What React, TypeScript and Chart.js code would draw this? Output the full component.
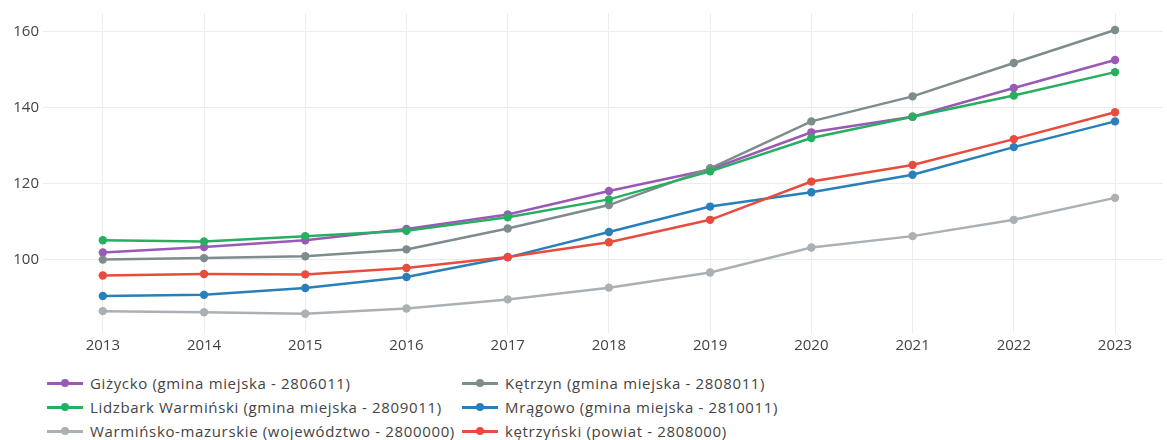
import React, { useEffect, useRef } from "react";
import { Chart, registerables } from "chart.js";

Chart.register(...registerables);

const years = [2013, 2014, 2015, 2016, 2017, 2018, 2019, 2020, 2021, 2022, 2023];
const yTicks = [100, 120, 140, 160];

const gizycko = [101.8, 103.2, 105.0, 108.0, 111.8, 118.0, 123.7, 133.5, 137.6, 145.2, 152.6];
const ketrzyn = [99.9, 100.3, 100.8, 102.6, 108.1, 114.3, 124.0, 136.4, 143.0, 151.8, 160.5];
const lidzbark = [105.0, 104.7, 106.1, 107.5, 111.1, 115.8, 123.2, 132.0, 137.6, 143.2, 149.4];
const mragowo = [90.3, 90.6, 92.4, 95.3, 100.5, 107.2, 113.9, 117.7, 122.3, 129.6, 136.4];
const warminsko = [86.3, 86.0, 85.6, 87.0, 89.4, 92.5, 96.5, 103.1, 106.1, 110.4, 116.2];
const ketrzynski = [95.7, 96.1, 96.0, 97.7, 100.6, 104.5, 110.4, 120.5, 124.9, 131.7, 138.8];

const seriesNames = [
  "Giżycko (gmina miejska - 2806011)",
  "Kętrzyn (gmina miejska - 2808011)",
  "Lidzbark Warmiński (gmina miejska - 2809011)",
  "Mrągowo (gmina miejska - 2810011)",
  "Warmińsko-mazurskie (województwo - 2800000)",
  "kętrzyński (powiat - 2808000)",
];
const seriesValues = [gizycko, ketrzyn, lidzbark, mragowo, warminsko, ketrzynski];
const seriesColors = ["#9b59b6", "#7f8c8d", "#27ae60", "#2980b9", "#aab0b3", "#e74c3c"];

const FONT = "'Open Sans', sans-serif";

export default function App() {
  const ref = useRef<HTMLCanvasElement | null>(null);

  useEffect(() => {
    if (!ref.current) return;
    const n = seriesNames.length;
    const chart = new Chart(ref.current, {
      type: "line",
      data: {
        datasets: seriesNames.map((name, i) => ({
          label: name,
          data: years.map((y, j) => ({ x: y, y: seriesValues[i][j] })),
          borderColor: seriesColors[i],
          backgroundColor: seriesColors[i],
          borderWidth: 2.5,
          pointRadius: 4.2,
          pointBorderWidth: 0,
          pointHoverRadius: 4.2,
          tension: 0,
          fill: false,
          order: n - i,
        })),
      },
      options: {
        animation: false,
        responsive: false,
        maintainAspectRatio: false,
        layout: { padding: { top: 13, right: 0, left: 0, bottom: 0 } },
        plugins: { legend: { display: false }, tooltip: { enabled: false } },
        scales: {
          x: {
            type: "linear",
            min: 2012.409,
            max: 2023.472,
            afterBuildTicks: (scale: any) => {
              scale.ticks = years.map((v) => ({ value: v }));
            },
            afterFit: (scale: any) => {
              scale.height = 27;
            },
            grid: { color: "#ececec", lineWidth: 1, drawTicks: false },
            border: { display: false },
            ticks: {
              padding: 4,
              color: "#444",
              font: { family: FONT, size: 15 },
              callback: (v: any) => String(v),
              maxRotation: 0,
              autoSkip: false,
            },
          },
          y: {
            type: "linear",
            min: 80.53,
            max: 165,
            afterBuildTicks: (scale: any) => {
              scale.ticks = yTicks.map((v) => ({ value: v }));
            },
            afterFit: (scale: any) => {
              scale.width = 43;
            },
            grid: { color: "#ececec", lineWidth: 1, drawTicks: false },
            border: { display: false },
            ticks: {
              padding: 4,
              color: "#444",
              font: { family: FONT, size: 15 },
              callback: (v: any) => String(v),
            },
          },
        },
      },
    });
    return () => chart.destroy();
  }, []);

  const col1X = 47;
  const col2X = 462;
  const rowY = [383, 407, 431];

  return (
    <div style={{ position: "absolute", left: 0, top: 0, width: 1167, height: 440, background: "#fff", overflow: "hidden" }}>
      <canvas ref={ref} width={1167} height={360} style={{ position: "absolute", left: 0, top: 0, width: 1167, height: 360 }} />
      {seriesNames.map((name, i) => {
        const x = i % 2 === 0 ? col1X : col2X;
        const y = rowY[Math.floor(i / 2)];
        return (
          <div key={name} style={{ position: "absolute", left: x, top: y - 12, height: 24, display: "flex", alignItems: "center", whiteSpace: "nowrap" }}>
            <div style={{ position: "relative", width: 36, height: 24 }}>
              <div style={{ position: "absolute", left: 0, top: 11, width: 36, height: 2.5, background: seriesColors[i] }} />
              <div style={{ position: "absolute", left: 14, top: 8, width: 8, height: 8, borderRadius: 4, background: seriesColors[i] }} />
            </div>
            <span style={{ marginLeft: 7, fontFamily: FONT, fontSize: 15, letterSpacing: "0.65px", color: "#444", lineHeight: "24px" }}>{name}</span>
          </div>
        );
      })}
    </div>
  );
}
